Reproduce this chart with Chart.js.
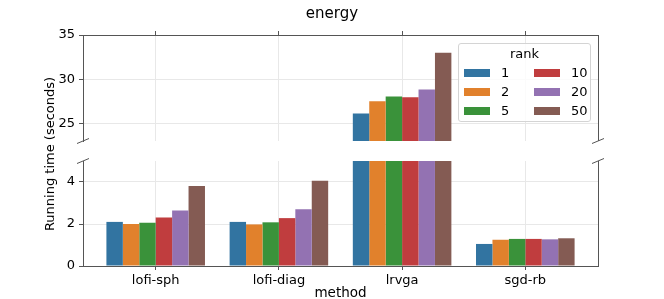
<!DOCTYPE html>
<html>
<head>
<meta charset="utf-8">
<title>energy</title>
<script src="https://cdn.jsdelivr.net/npm/chart.js@4.4.1/dist/chart.umd.min.js"></script>
<style>
  html, body { margin: 0; padding: 0; background: #fff; }
  #fig { position: relative; width: 664px; height: 299px; overflow: hidden;
         font-family: "DejaVu Sans", sans-serif; color: #000; }
  #fig canvas { position: absolute; left: 0; }
  #topChart { top: 0; }
  #bottomChart { top: 150px; }
  .title { position: absolute; left: 0; top: 4px; width: 664px; text-align: center;
           font-size: 15px; line-height: 18px; }
  .ylabel { position: absolute; left: -50px; top: 146px; width: 200px; text-align: center;
            font-size: 13px; line-height: 16px; transform: rotate(-90deg); }
  .legend { position: absolute; left: 458px; top: 43px; width: 133px; height: 79px;
            box-sizing: border-box; border: 1px solid #d4d4d4; border-radius: 3px;
            background: rgba(255,255,255,0.8); font-size: 13px; }
  .legend .ttl { position: absolute; left: 0; width: 100%; top: 2px; text-align: center; line-height: 16px; }
  .legend .sw { position: absolute; width: 26px; height: 8px; }
  .legend .lb { position: absolute; line-height: 16px; }
</style>
</head>
<body>
<div id="fig">
  <canvas id="topChart" width="664" height="150"></canvas>
  <canvas id="bottomChart" width="664" height="149"></canvas>
  <div class="title">energy</div>
  <div class="ylabel">Running time (seconds)</div>
  <div class="legend" id="legend"><div class="ttl">rank</div></div>
</div>
<script>
// ── Data ─────────────────────────────────────────────────────
const methods = ["lofi-sph", "lofi-diag", "lrvga", "sgd-rb"];
const ranks   = ["1", "2", "5", "10", "20", "50"];

const rank1  = [2.10, 2.10, 26.10, 1.05];
const rank2  = [2.00, 1.98, 27.50, 1.25];
const rank5  = [2.06, 2.08, 28.05, 1.29];
const rank10 = [2.31, 2.28, 27.95, 1.29];
const rank20 = [2.64, 2.70, 28.83, 1.27];
const rank50 = [3.81, 4.06, 33.00, 1.32];
const series = [rank1, rank2, rank5, rank10, rank20, rank50];

const colors = ["#3274a1", "#e1812c", "#3a923a", "#c03d3e", "#9372b2", "#845b53"];

const topTicks    = [25, 30, 35];
const bottomTicks = [0, 2, 4];
const topRange    = [23, 35];
const bottomRange = [0, 5];
const xRange      = [-0.59, 3.59];

// ── Style ────────────────────────────────────────────────────
const SPINE = "#555";
const GRID  = "#e8e8e8";
Chart.defaults.font.family = '"DejaVu Sans", sans-serif';
Chart.defaults.font.size = 13;
Chart.defaults.color = "#000";

function makeDatasets() {
  return ranks.map((r, k) => ({
    label: r,
    data: series[k].map((v, i) => ({ x: i, y: v })),
    backgroundColor: colors[k],
    borderWidth: 0,
    categoryPercentage: 0.8,
    barPercentage: 1.0
  }));
}

// right spine + the diagonal marks of the broken axis
const brokenAxis = {
  id: "brokenAxis",
  afterDraw(chart, args, opts) {
    const { ctx, chartArea: a } = chart;
    const r = Math.round(a.right) + 0.5;
    ctx.save();
    ctx.strokeStyle = SPINE;
    ctx.lineWidth = 1;
    ctx.beginPath();
    ctx.moveTo(r, a.top);
    ctx.lineTo(r, a.bottom);
    ctx.stroke();
    const y = opts.edge === "bottom" ? a.bottom : a.top;
    [a.left, a.right].forEach(x => {
      ctx.beginPath();
      ctx.moveTo(x - 6, y + 2.5);
      ctx.lineTo(x + 6, y - 2.5);
      ctx.stroke();
    });
    ctx.restore();
  }
};

function makeChart(id, range, yTicks, xPos, padding, xHeight) {
  const isBottom = xPos === "bottom";
  return new Chart(document.getElementById(id), {
    type: "bar",
    data: { datasets: makeDatasets() },
    plugins: [brokenAxis],
    options: {
      responsive: false,
      animation: false,
      devicePixelRatio: 1,
      layout: { padding },
      plugins: {
        legend: { display: false },
        tooltip: { enabled: false },
        brokenAxis: { edge: isBottom ? "top" : "bottom" }
      },
      scales: {
        x: {
          type: "linear",
          position: xPos,
          min: xRange[0],
          max: xRange[1],
          offset: false,
          afterBuildTicks: s => { s.ticks = methods.map((m, i) => ({ value: i })); },
          afterFit: s => { s.height = xHeight; s.paddingLeft = 0; s.paddingRight = 0; },
          grid: { offset: false, color: GRID, tickColor: SPINE, tickLength: 4 },
          border: { color: SPINE, width: 1 },
          ticks: { display: isBottom, padding: 3, callback: v => methods[v] },
          title: {
            display: isBottom, text: "method", font: { size: 13.5 },
            padding: { top: 0, bottom: -3 }
          }
        },
        y: {
          min: range[0],
          max: range[1],
          afterBuildTicks: s => { s.ticks = yTicks.map(v => ({ value: v })); },
          afterFit: s => { s.width = 83; s.paddingTop = 0; s.paddingBottom = 0; },
          grid: { color: GRID, tickColor: SPINE, tickLength: 4 },
          border: { color: SPINE, width: 1 },
          ticks: { padding: 4 }
        }
      }
    }
  });
}

makeChart("topChart", topRange, topTicks, "top",
          { left: 0, right: 66, top: 0, bottom: 9 }, 35);
makeChart("bottomChart", bottomRange, bottomTicks, "bottom",
          { left: 0, right: 66, top: 11, bottom: 0 }, 33);

// ── Legend (two columns, inside the top panel) ───────────────
const legend = document.getElementById("legend");
ranks.forEach((r, k) => {
  const col = Math.floor(k / 3), row = k % 3;
  const cy = 28.7 + row * 19.2;
  const sw = document.createElement("div");
  sw.className = "sw";
  sw.style.left = (col ? 75 : 5) + "px";
  sw.style.top = (cy - 4) + "px";
  sw.style.background = colors[k];
  legend.appendChild(sw);
  const lb = document.createElement("div");
  lb.className = "lb";
  lb.style.left = (col ? 112 : 42) + "px";
  lb.style.top = (cy - 8) + "px";
  lb.textContent = r;
  legend.appendChild(lb);
});
</script>
</body>
</html>
